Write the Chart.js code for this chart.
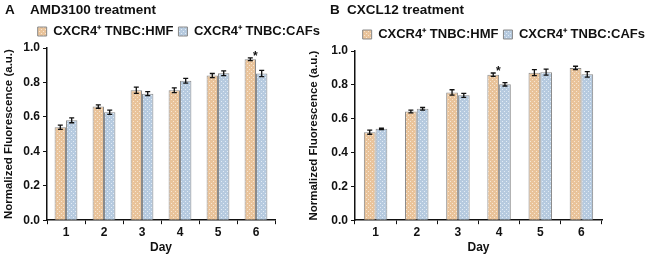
<!DOCTYPE html>
<html>
<head>
<meta charset="utf-8">
<script src="https://cdn.jsdelivr.net/npm/chart.js@4"></script>
<style>
  body { margin: 0; background: #fff; width: 650px; height: 255px; overflow: hidden; font-family: "Liberation Sans", Arial, sans-serif; }
  .panel { position: absolute; top: 0; height: 255px; }
  .lbl { position: absolute; top: 2px; font-weight: bold; font-size: 13.5px; color: #111; }
</style>
</head>
<body>
<div class="panel" style="left:0;width:325px"><canvas id="chartA" width="325" height="255"></canvas></div>
<div class="panel" style="left:305px;width:345px"><canvas id="chartB" width="345" height="255"></canvas></div>
<div class="lbl" style="left:5px">A</div>
<div class="lbl" style="left:30px">AMD3100 treatment</div>
<div class="lbl" style="left:330px">B</div>
<div class="lbl" style="left:347px">CXCL12 treatment</div>
<script>
const days = ['1', '2', '3', '4', '5', '6'];
const seriesNames = ['CXCR4\u207A TNBC:HMF', 'CXCR4\u207A TNBC:CAFs'];

// panel A - AMD3100
const amdHmf = [0.54, 0.66, 0.755, 0.755, 0.84, 0.935];
const amdHmfErr = [0.012, 0.01, 0.018, 0.014, 0.012, 0.008];
const amdCaf = [0.58, 0.627, 0.735, 0.81, 0.853, 0.852];
const amdCafErr = [0.014, 0.012, 0.012, 0.014, 0.014, 0.018];
const amdStar = [null, null, null, null, null, '*'];

// panel B - CXCL12
const cxHmf = [0.52, 0.642, 0.755, 0.86, 0.872, 0.9];
const cxHmfErr = [0.012, 0.008, 0.016, 0.01, 0.018, 0.01];
const cxCaf = [0.54, 0.658, 0.738, 0.803, 0.875, 0.862];
const cxCafErr = [0.004, 0.008, 0.012, 0.01, 0.018, 0.016];
const cxStar = [null, null, null, '*', null, null];

const yTicks = [0, 0.2, 0.4, 0.6, 0.8, 1.0];

function makePattern(base, dot) {
  let c = document.createElement('canvas');
  c.width = 4; c.height = 4;
  let g = c.getContext('2d');
  g.fillStyle = base;
  g.fillRect(0, 0, 4, 4);
  g.fillStyle = dot;
  g.fillRect(1, 1, 1, 1);
  g.fillRect(3, 3, 1, 1);
  return g.createPattern(c, 'repeat');
}

const orange = makePattern('#e9c39a', '#f8e6d2');
const blue = makePattern('#b6cadf', '#e2ecf5');

// error bars + significance marks
const errorBars = {
  id: 'errorBars',
  afterDatasetsDraw(chart) {
    let ctx = chart.ctx;
    let y = chart.scales.y;
    ctx.save();
    ctx.strokeStyle = '#111';
    ctx.lineWidth = 1.3;
    chart.data.datasets.forEach((ds, di) => {
      let meta = chart.getDatasetMeta(di);
      meta.data.forEach((bar, i) => {
        let v = ds.data[i], e = ds.err[i];
        let top = y.getPixelForValue(v + e), bot = y.getPixelForValue(v - e);
        ctx.beginPath();
        ctx.moveTo(bar.x, top); ctx.lineTo(bar.x, bot);
        ctx.moveTo(bar.x - 2.5, top); ctx.lineTo(bar.x + 2.5, top);
        ctx.moveTo(bar.x - 2.5, bot); ctx.lineTo(bar.x + 2.5, bot);
        ctx.stroke();
        if (ds.star && ds.star[i]) {
          ctx.fillStyle = '#111';
          ctx.font = 'bold 12px "Liberation Sans", Arial';
          ctx.textAlign = 'center';
          ctx.fillText(ds.star[i], bar.x + 5, top - 1);
        }
      });
    });
    ctx.restore();
  }
};

function makeChart(id, hmf, hmfErr, caf, cafErr, star, catPct, yWidth, rightGap, topPad) {
  return new Chart(document.getElementById(id), {
    type: 'bar',
    data: {
      labels: days,
      datasets: [
        { label: seriesNames[0], data: hmf, err: hmfErr, star: star, backgroundColor: orange, borderColor: '#8a8a8a', borderWidth: 1 },
        { label: seriesNames[1], data: caf, err: cafErr, backgroundColor: blue, borderColor: '#8a8a8a', borderWidth: 1 }
      ]
    },
    plugins: [errorBars],
    options: {
      responsive: false,
      animation: false,
      layout: { padding: { left: 0, right: 0, top: topPad, bottom: 0 } },
      datasets: { bar: { barPercentage: 1, categoryPercentage: catPct } },
      plugins: {
        legend: {
          align: 'end',
          labels: {
            boxWidth: 9, boxHeight: 9, padding: 5, color: '#111',
            font: { family: '"Liberation Sans", Arial', size: 13, weight: 'bold' }
          }
        },
        tooltip: { enabled: false }
      },
      scales: {
        x: {
          grid: { display: true, drawOnChartArea: false, color: '#111', tickLength: 4 },
          border: { color: '#111', width: 1.5 },
          ticks: { color: '#111', font: { family: '"Liberation Sans", Arial', size: 12, weight: 'bold' }, padding: 1 },
          title: { display: true, text: 'Day', color: '#111', padding: 0, font: { family: '"Liberation Sans", Arial', size: 12, weight: 'bold' } }
        },
        y: {
          min: 0, max: 1,
          afterBuildTicks: s => { s.ticks = yTicks.map(v => ({ value: v })); },
          afterFit: s => { s.width = yWidth; },
          grid: { display: true, drawOnChartArea: false, color: '#111', tickLength: 4 },
          border: { color: '#111', width: 1.5 },
          ticks: { color: '#111', callback: v => v.toFixed(1), font: { family: '"Liberation Sans", Arial', size: 12, weight: 'bold' }, padding: 3 },
          title: { display: true, text: 'Normalized Fluorescence (a.u.)', color: '#111', padding: 2, font: { family: '"Liberation Sans", Arial', size: 11.5, weight: 'bold' } }
        },
        // empty spacer on the right
        gap: {
          type: 'linear', position: 'right', display: true,
          afterFit: s => { s.width = rightGap; },
          grid: { display: false }, border: { display: false }, ticks: { display: false }
        }
      }
    }
  });
}

makeChart('chartA', amdHmf, amdHmfErr, amdCaf, amdCafErr, amdStar, 0.6, 47, 50, 20);
makeChart('chartB', cxHmf, cxHmfErr, cxCaf, cxCafErr, cxStar, 0.57, 50, 48, 23);
</script>
</body>
</html>
